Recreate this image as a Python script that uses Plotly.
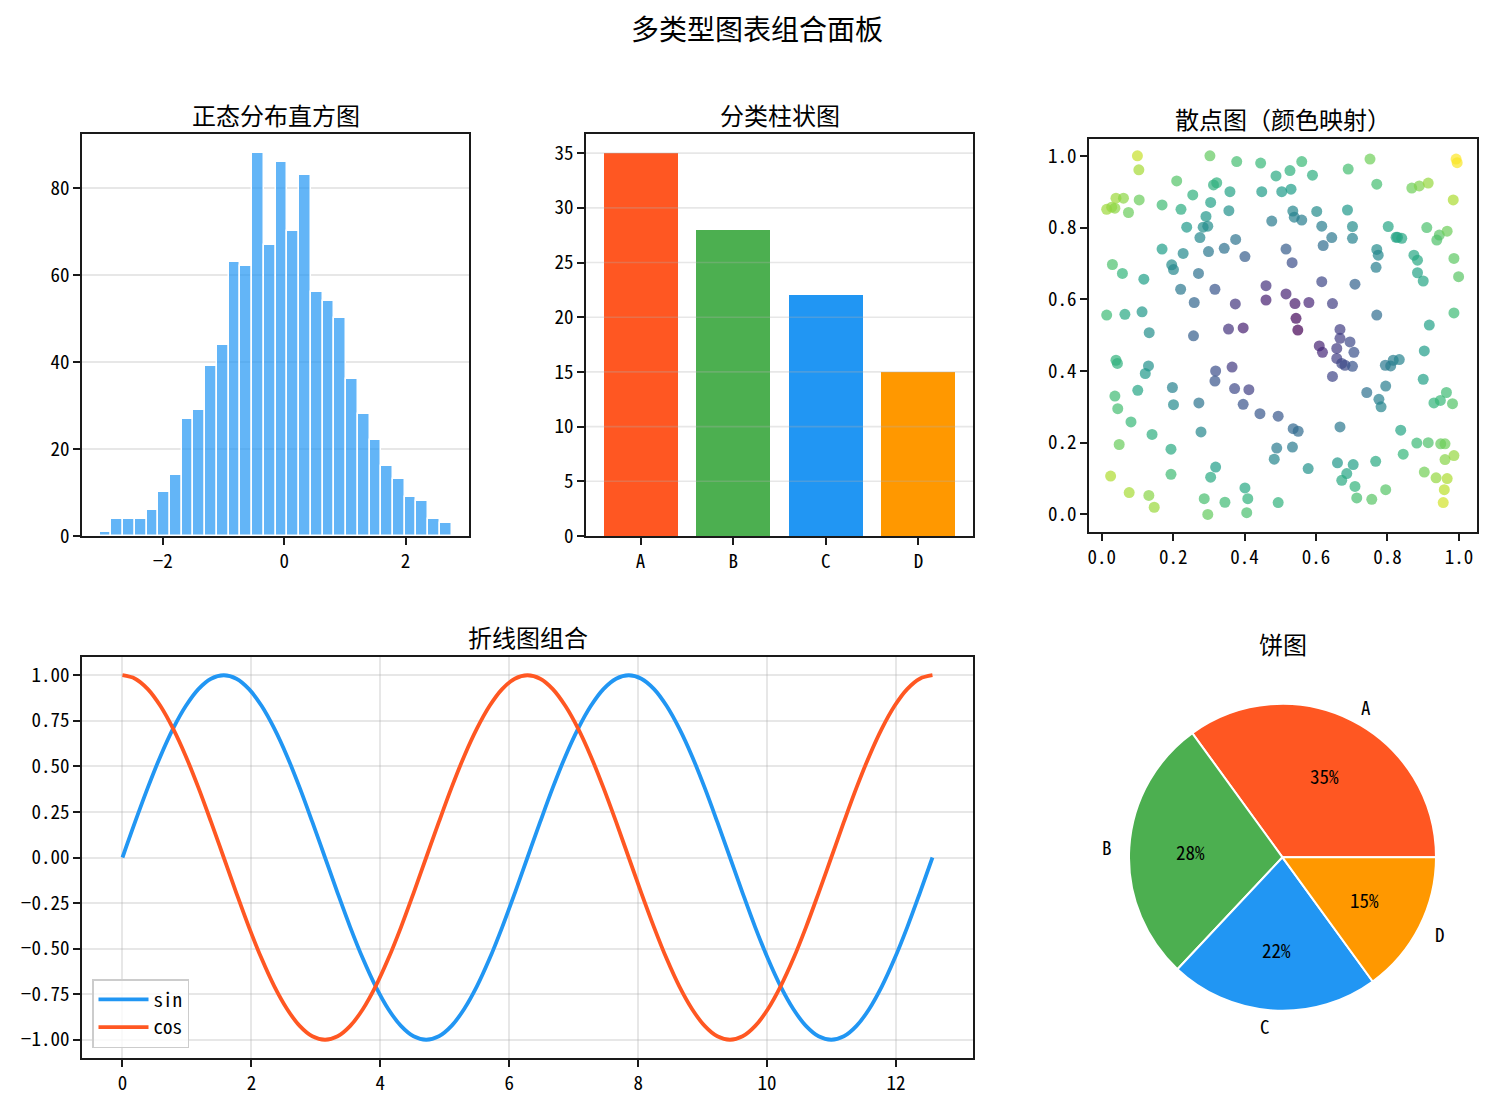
import numpy as np
import plotly.graph_objects as go

W, H = 1491, 1106

# ---------------- data ----------------
hist_start = -3.04
hist_binwidth = 0.1933
hist_counts = [1, 4, 4, 4, 6, 10, 14, 27, 29, 39, 44, 63, 62, 88, 67, 86, 70, 83,
               56, 54, 50, 36, 28, 22, 16, 13, 9, 8, 4, 3]

categories = ["A", "B", "C", "D"]
cat_values = [35, 28, 22, 15]
cat_colors = ["#FF5722", "#4CAF50", "#2196F3", "#FF9800"]

scatter_x = [0.100, 0.104, 0.303, 0.378, 0.445, 0.488, 0.527, 0.560, 0.590, 0.690,
             0.751, 0.770, 0.992, 0.995, 0.210, 0.313, 0.322, 0.359, 0.255, 0.448,
             0.504, 0.530, 0.868, 0.889, 0.914, 0.984, 0.014, 0.028, 0.040, 0.061,
             0.037, 0.075, 0.105, 0.169, 0.222, 0.305, 0.356, 0.238, 0.292, 0.284,
             0.297, 0.275, 0.299, 0.343, 0.375, 0.401, 0.476, 0.535, 0.539, 0.560,
             0.602, 0.616, 0.688, 0.702, 0.702, 0.644, 0.620, 0.516, 0.533, 0.802,
             0.824, 0.828, 0.840, 0.910, 0.945, 0.938, 0.967, 0.770, 0.774, 0.768,
             0.874, 0.884, 0.884, 0.900, 0.986, 0.999, 0.169, 0.228, 0.196, 0.201,
             0.271, 0.030, 0.058, 0.118, 0.221, 0.317, 0.259, 0.014, 0.065, 0.113,
             0.133, 0.257, 0.355, 0.396, 0.374, 0.460, 0.460, 0.516, 0.541, 0.580,
             0.544, 0.549, 0.616, 0.646, 0.709, 0.770, 0.986, 0.917, 0.667, 0.667,
             0.695, 0.609, 0.618, 0.658, 0.658, 0.672, 0.681, 0.706, 0.702, 0.646,
             0.903, 0.794, 0.809, 0.816, 0.833, 0.900, 0.795, 0.742, 0.776, 0.782,
             0.837, 0.667, 0.930, 0.948, 0.965, 0.982, 0.040, 0.044, 0.131, 0.122,
             0.037, 0.045, 0.101, 0.198, 0.201, 0.272, 0.319, 0.317, 0.365, 0.372,
             0.412, 0.396, 0.443, 0.494, 0.536, 0.550, 0.082, 0.141, 0.278, 0.049,
             0.194, 0.490, 0.534, 0.483, 0.578, 0.660, 0.686, 0.672, 0.704, 0.709,
             0.714, 0.756, 0.767, 0.795, 0.844, 0.882, 0.914, 0.949, 0.961, 0.986,
             0.961, 0.903, 0.936, 0.967, 0.959, 0.956, 0.025, 0.077, 0.132, 0.147,
             0.194, 0.305, 0.319, 0.287, 0.297, 0.345, 0.401, 0.409, 0.406, 0.494]
scatter_y = [1.000, 0.961, 1.000, 0.984, 0.980, 0.944, 0.959, 0.984, 0.946, 0.963,
             0.991, 0.921, 0.991, 0.981, 0.930, 0.919, 0.925, 0.900, 0.891, 0.900,
             0.900, 0.907, 0.910, 0.916, 0.924, 0.877, 0.851, 0.857, 0.882, 0.882,
             0.854, 0.842, 0.877, 0.863, 0.851, 0.870, 0.847, 0.801, 0.831, 0.801,
             0.804, 0.772, 0.733, 0.742, 0.767, 0.719, 0.818, 0.846, 0.829, 0.821,
             0.845, 0.804, 0.849, 0.803, 0.770, 0.772, 0.750, 0.740, 0.702, 0.803,
             0.773, 0.773, 0.770, 0.800, 0.779, 0.765, 0.790, 0.739, 0.723, 0.689,
             0.723, 0.709, 0.674, 0.651, 0.714, 0.663, 0.740, 0.728, 0.696, 0.683,
             0.672, 0.697, 0.672, 0.656, 0.628, 0.628, 0.591, 0.556, 0.558, 0.565,
             0.507, 0.498, 0.517, 0.520, 0.587, 0.638, 0.598, 0.615, 0.588, 0.591,
             0.547, 0.514, 0.649, 0.588, 0.642, 0.556, 0.562, 0.528, 0.516, 0.491,
             0.481, 0.470, 0.452, 0.463, 0.435, 0.421, 0.416, 0.452, 0.413, 0.385,
             0.456, 0.416, 0.414, 0.430, 0.432, 0.377, 0.358, 0.340, 0.321, 0.300,
             0.235, 0.244, 0.311, 0.318, 0.340, 0.309, 0.430, 0.421, 0.414, 0.393,
             0.330, 0.295, 0.346, 0.354, 0.306, 0.311, 0.400, 0.372, 0.411, 0.351,
             0.348, 0.307, 0.281, 0.274, 0.239, 0.232, 0.258, 0.223, 0.230, 0.195,
             0.182, 0.185, 0.188, 0.154, 0.128, 0.144, 0.114, 0.095, 0.139, 0.078,
             0.046, 0.042, 0.148, 0.069, 0.168, 0.199, 0.200, 0.197, 0.197, 0.164,
             0.153, 0.118, 0.102, 0.100, 0.069, 0.033, 0.107, 0.061, 0.053, 0.020,
             0.112, 0.104, 0.132, 0.044, 0.000, 0.034, 0.074, 0.044, 0.005, 0.033]

line_x = [0.000, 0.196, 0.393, 0.589, 0.785, 0.982, 1.178, 1.374, 1.571, 1.767,
          1.963, 2.160, 2.356, 2.553, 2.749, 2.945, 3.142, 3.338, 3.534, 3.731,
          3.927, 4.123, 4.320, 4.516, 4.712, 4.909, 5.105, 5.301, 5.498, 5.694,
          5.890, 6.087, 6.283, 6.480, 6.676, 6.872, 7.069, 7.265, 7.461, 7.658,
          7.854, 8.050, 8.247, 8.443, 8.639, 8.836, 9.032, 9.228, 9.425, 9.621,
          9.817, 10.014, 10.210, 10.407, 10.603, 10.799, 10.996, 11.192, 11.388,
          11.585, 11.781, 11.977, 12.174, 12.370, 12.566]
sin_y = [0.000, 0.195, 0.383, 0.556, 0.707, 0.831, 0.924, 0.981, 1.000, 0.981,
         0.924, 0.831, 0.707, 0.556, 0.383, 0.195, 0.000, -0.195, -0.383, -0.556,
         -0.707, -0.831, -0.924, -0.981, -1.000, -0.981, -0.924, -0.831, -0.707,
         -0.556, -0.383, -0.195, 0.000, 0.195, 0.383, 0.556, 0.707, 0.831, 0.924,
         0.981, 1.000, 0.981, 0.924, 0.831, 0.707, 0.556, 0.383, 0.195, 0.000,
         -0.195, -0.383, -0.556, -0.707, -0.831, -0.924, -0.981, -1.000, -0.981,
         -0.924, -0.831, -0.707, -0.556, -0.383, -0.195, 0.000]
cos_y = [1.000, 0.981, 0.924, 0.831, 0.707, 0.556, 0.383, 0.195, 0.000, -0.195,
         -0.383, -0.556, -0.707, -0.831, -0.924, -0.981, -1.000, -0.981, -0.924,
         -0.831, -0.707, -0.556, -0.383, -0.195, 0.000, 0.195, 0.383, 0.556, 0.707,
         0.831, 0.924, 0.981, 1.000, 0.981, 0.924, 0.831, 0.707, 0.556, 0.383,
         0.195, 0.000, -0.195, -0.383, -0.556, -0.707, -0.831, -0.924, -0.981,
         -1.000, -0.981, -0.924, -0.831, -0.707, -0.556, -0.383, -0.195, 0.000,
         0.195, 0.383, 0.556, 0.707, 0.831, 0.924, 0.981, 1.000]

pie_labels = ["A", "B", "C", "D"]
pie_values = [35, 28, 22, 15]

# ---------------- style helpers ----------------
TITLE_FONT = "Noto Sans CJK SC"
TICK_FONT = "Noto Sans Mono CJK SC, Liberation Mono, monospace"
TICK_SIZE = 19
GRID = "rgba(176,176,176,0.3)"


def px_dom_x(a, b):
    return [a / W, b / W]


def px_dom_y(top, bottom):
    return [1 - bottom / H, 1 - top / H]


def axis_style(**kw):
    d = dict(showline=True, linecolor="#1a1a1a", linewidth=1.6, mirror=True,
             ticks="outside", ticklen=7, tickwidth=1.6, tickcolor="#1a1a1a",
             tickfont=dict(family=TICK_FONT, size=TICK_SIZE, color="#000"),
             showgrid=False, zeroline=False, automargin=False)
    d.update(kw)
    return d


fig = go.Figure()

# Histogram
centers = [hist_start + hist_binwidth * (i + 0.5) for i in range(len(hist_counts))]
fig.add_trace(go.Bar(x=centers, y=hist_counts, width=hist_binwidth,
                     marker=dict(color="rgba(33,150,243,0.7)",
                                 line=dict(color="white", width=1.5)),
                     xaxis="x", yaxis="y", showlegend=False))

# Category bars
fig.add_trace(go.Bar(x=list(range(len(categories))), y=cat_values, width=0.8,
                     marker=dict(color=cat_colors, line=dict(width=0)),
                     xaxis="x2", yaxis="y2", showlegend=False))

# Scatter
sx = np.array(scatter_x)
sy = np.array(scatter_y)
dist = np.sqrt((sx - 0.5) ** 2 + (sy - 0.5) ** 2)
fig.add_trace(go.Scatter(x=scatter_x, y=scatter_y, mode="markers",
                         marker=dict(size=11, color=dist, colorscale="Viridis",
                                     opacity=0.7, line=dict(width=0)),
                         xaxis="x3", yaxis="y3", showlegend=False))

# Lines
fig.add_trace(go.Scatter(x=line_x, y=sin_y, mode="lines", name="sin",
                         line=dict(color="#2196F3", width=3.8, shape="spline"),
                         xaxis="x4", yaxis="y4"))
fig.add_trace(go.Scatter(x=line_x, y=cos_y, mode="lines", name="cos",
                         line=dict(color="#FF5722", width=3.8, shape="spline"),
                         xaxis="x4", yaxis="y4"))

# Pie (first slice starts at 3 o'clock and runs counter-clockwise)
total = float(sum(pie_values))
pcx, pcy, pr = 1282.5, 857.3, 153.5
fig.add_trace(go.Pie(labels=pie_labels, values=pie_values, sort=False,
                     direction="counterclockwise",
                     rotation=90 - 360 * pie_values[0] / total,
                     marker=dict(colors=cat_colors, line=dict(color="white", width=2)),
                     textinfo="none", hoverinfo="label+percent",
                     domain=dict(x=px_dom_x(pcx - pr, pcx + pr),
                                 y=px_dom_y(pcy - pr, pcy + pr)),
                     showlegend=False))

annotations = []
cum = 0.0
for lab, v in zip(pie_labels, pie_values):
    mid = (cum + v / 2) / total * 2 * np.pi
    cum += v
    # outer label (left/right aligned as matplotlib does)
    lx = pcx + 1.1 * pr * np.cos(mid)
    ly = pcy - 1.1 * pr * np.sin(mid)
    annotations.append(dict(x=lx / W, y=1 - ly / H, xref="paper", yref="paper",
                            text=lab, showarrow=False,
                            xanchor="left" if np.cos(mid) > 0 else "right",
                            yanchor="middle",
                            font=dict(family=TICK_FONT, size=TICK_SIZE, color="#000")))
    # percentage label
    tx = pcx + 0.6 * pr * np.cos(mid)
    ty = pcy - 0.6 * pr * np.sin(mid)
    annotations.append(dict(x=tx / W, y=1 - ty / H, xref="paper", yref="paper",
                            text=f"{v / total * 100:.0f}%", showarrow=False,
                            xanchor="center", yanchor="middle",
                            font=dict(family=TICK_FONT, size=TICK_SIZE, color="#000")))

# Titles
titles = [
    ("多类型图表组合面板", 757, 28, 28),
    ("正态分布直方图", 275.5, 114, 24),
    ("分类柱状图", 779.5, 114, 24),
    ("散点图（颜色映射）", 1282.5, 118, 24),
    ("折线图组合", 527.5, 636, 24),
    ("饼图", 1282.5, 643, 24),
]
for t, x, y, s in titles:
    annotations.append(dict(x=x / W, y=1 - y / H, xref="paper", yref="paper",
                            text=t, showarrow=False, xanchor="center", yanchor="middle",
                            font=dict(family=TITLE_FONT, size=s, color="#000")))

# grid lines drawn over the category bars (as in the reference)
bar_ticks = [0, 5, 10, 15, 20, 25, 30, 35]
shapes = [dict(type="line", xref="x2 domain", yref="y2", x0=0, x1=1, y0=t, y1=t,
               line=dict(color=GRID, width=1.6), layer="above") for t in bar_ticks[1:]]

fig.update_layout(
    template="none",
    width=W, height=H, margin=dict(l=0, r=0, t=0, b=0, pad=0),
    paper_bgcolor="white", plot_bgcolor="white",
    bargap=0,
    annotations=annotations,
    shapes=shapes,
    xaxis=axis_style(domain=px_dom_x(82, 469), range=[-3.33, 3.045],
                     tickvals=[-2, 0, 2], anchor="y"),
    yaxis=axis_style(domain=px_dom_y(134, 536), range=[0, 92.4],
                     tickvals=[0, 20, 40, 60, 80], showgrid=True, gridcolor=GRID,
                     gridwidth=1.6, anchor="x"),
    xaxis2=axis_style(domain=px_dom_x(586, 973), range=[-0.59, 3.59],
                      tickvals=list(range(len(categories))), ticktext=categories,
                      anchor="y2"),
    yaxis2=axis_style(domain=px_dom_y(134, 536), range=[0, 36.75],
                      tickvals=bar_ticks, showgrid=False, anchor="x2"),
    xaxis3=axis_style(domain=px_dom_x(1089, 1476.7), range=[-0.0355, 1.0497],
                      tickvals=[0, 0.2, 0.4, 0.6, 0.8, 1.0], tickformat=".1f",
                      anchor="y3"),
    yaxis3=axis_style(domain=px_dom_y(139, 532), range=[-0.049, 1.047],
                      tickvals=[0, 0.2, 0.4, 0.6, 0.8, 1.0], tickformat=".1f",
                      anchor="x3"),
    xaxis4=axis_style(domain=px_dom_x(82, 973), range=[-0.628, 13.195],
                      tickvals=[0, 2, 4, 6, 8, 10, 12], showgrid=True,
                      gridcolor=GRID, gridwidth=1.6, anchor="y4"),
    yaxis4=axis_style(domain=px_dom_y(657, 1058), range=[-1.1, 1.1],
                      tickvals=[-1, -0.75, -0.5, -0.25, 0, 0.25, 0.5, 0.75, 1],
                      tickformat=".2f", showgrid=True, gridcolor=GRID, gridwidth=1.6,
                      anchor="x4"),
    legend=dict(x=92 / W, y=1 - 1048 / H, xanchor="left", yanchor="bottom",
                bgcolor="rgba(255,255,255,0.8)", bordercolor="#cccccc", borderwidth=1.5,
                font=dict(family=TICK_FONT, size=TICK_SIZE, color="#000"),
                itemwidth=50, tracegroupgap=4),
)

post = (
    "document.documentElement.style.margin='0';"
    "document.body.style.margin='0';"
    "document.documentElement.style.overflow='hidden';"
    "document.body.style.overflow='hidden';"
)

fig.write_html("out.html", config={"displayModeBar": False}, post_script=post)
